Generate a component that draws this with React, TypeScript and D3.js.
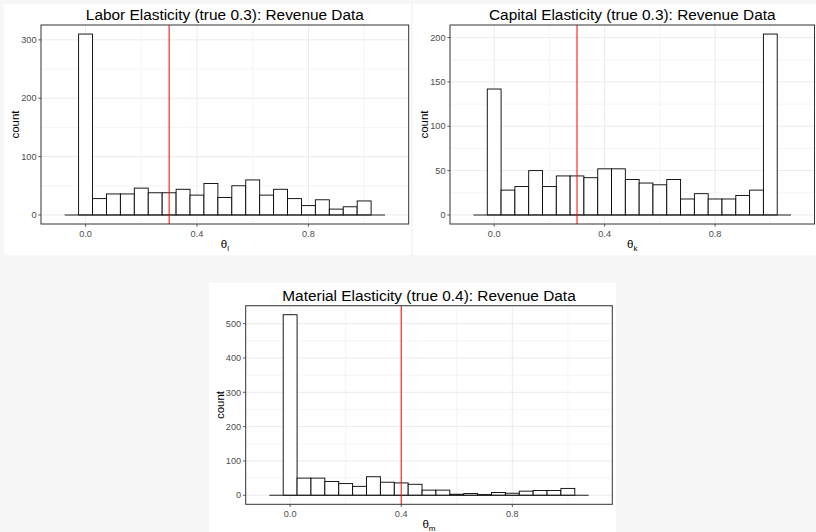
import React from "react";
import * as d3 from "d3";

// bin centres (width 0.05), the two outer bins are empty
const binCenters = [-0.05, 0, 0.05, 0.1, 0.15, 0.2, 0.25, 0.3, 0.35, 0.4, 0.45, 0.5, 0.55, 0.6, 0.65, 0.7, 0.75, 0.8, 0.85, 0.9, 0.95, 1.0, 1.05];
const binWidth = 0.05;

const laborCounts = [0, 310, 28, 36, 36, 46, 38, 38, 44, 34, 54, 30, 50, 60, 34, 44, 28, 16, 26, 10, 14, 24, 0];
const capitalCounts = [0, 142, 28, 32, 50, 32, 44, 44, 42, 52, 52, 40, 36, 34, 40, 18, 24, 18, 18, 22, 28, 204, 0];
const materialCounts = [0, 526, 50, 50, 40, 34, 26, 54, 38, 36, 32, 15, 15, 3, 5, 2, 8, 6, 12, 14, 14, 20, 0];

const xTicks = [0, 0.4, 0.8];
const xMinor = [0.2, 0.6, 1.0];
const laborTicks = [0, 100, 200, 300];
const capitalTicks = [0, 50, 100, 150, 200];
const materialTicks = [0, 100, 200, 300, 400, 500];

const font = "'Liberation Sans', Arial, sans-serif";

type PanelProps = {
  bg: [number, number, number, number];
  box: [number, number, number, number];
  title: string;
  sub: string;
  counts: number[];
  yTicks: number[];
  truth: number;
};

const Panel = ({ bg, box, title, sub, counts, yTicks, truth }: PanelProps) => {
  const [x0, y0, x1, y1] = box;
  const ymax = d3.max(counts) as number;
  const x = d3.scaleLinear().domain([-0.16, 1.16]).range([x0, x1]);
  const y = d3.scaleLinear().domain([-0.05 * ymax, 1.05 * ymax]).range([y1, y0]);
  const step = yTicks[1] - yTicks[0];
  const yMinor = yTicks.map((t) => t + step / 2).filter((t) => y(t) > y0);
  const grid = "#ebebeb";
  const first = binCenters[0] - binWidth / 2;
  const last = binCenters[binCenters.length - 1] + binWidth / 2;

  return (
    <g>
      <rect x={bg[0]} y={bg[1]} width={bg[2] - bg[0]} height={bg[3] - bg[1]} fill="white" />
      {yMinor.map((t) => (
        <line key={"ym" + t} x1={x0} x2={x1} y1={y(t)} y2={y(t)} stroke={grid} strokeWidth={0.5} />
      ))}
      {xMinor.map((t) => (
        <line key={"xm" + t} x1={x(t)} x2={x(t)} y1={y0} y2={y1} stroke={grid} strokeWidth={0.5} />
      ))}
      {yTicks.map((t) => (
        <line key={"yg" + t} x1={x0} x2={x1} y1={y(t)} y2={y(t)} stroke={grid} strokeWidth={1} />
      ))}
      {xTicks.map((t) => (
        <line key={"xg" + t} x1={x(t)} x2={x(t)} y1={y0} y2={y1} stroke={grid} strokeWidth={1} />
      ))}
      {binCenters.map((c, i) => {
        const top = y(counts[i]);
        if (counts[i] === 0) return null;
        return (
          <rect
            key={"b" + i}
            x={x(c - binWidth / 2)}
            y={top}
            width={x(c + binWidth / 2) - x(c - binWidth / 2)}
            height={y(0) - top}
            fill="white"
            stroke="black"
            strokeWidth={0.9}
          />
        );
      })}
      <line x1={x(first)} x2={x(last)} y1={y(0)} y2={y(0)} stroke="#222" strokeWidth={1.1} />
      <line x1={x(truth)} x2={x(truth)} y1={y0} y2={y1} stroke="red" strokeWidth={1} />
      <rect x={x0} y={y0} width={x1 - x0} height={y1 - y0} fill="none" stroke="#333333" strokeWidth={1} />
      {yTicks.map((t) => (
        <g key={"yt" + t}>
          <line x1={x0 - 2.7} x2={x0} y1={y(t)} y2={y(t)} stroke="#333333" strokeWidth={0.8} />
          <text x={x0 - 4.5} y={y(t)} dy="0.35em" textAnchor="end" fontSize={9.2} fill="#4d4d4d" fontFamily={font}>
            {t}
          </text>
        </g>
      ))}
      {xTicks.map((t) => (
        <g key={"xt" + t}>
          <line x1={x(t)} x2={x(t)} y1={y1} y2={y1 + 2.7} stroke="#333333" strokeWidth={0.8} />
          <text x={x(t)} y={y1 + 12.5} textAnchor="middle" fontSize={9.2} fill="#4d4d4d" fontFamily={font}>
            {d3.format(".1f")(t)}
          </text>
        </g>
      ))}
      <text x={(x0 + x1) / 2} y={y0 - 5} textAnchor="middle" fontSize={15.4} fill="black" fontFamily={font}>
        {title}
      </text>
      <text x={(x0 + x1) / 2} y={y1 + 24} textAnchor="middle" fontSize={11.5} fill="black" fontFamily={font}>
        θ<tspan fontSize={8} dy={3}>{sub}</tspan>
      </text>
      <text
        transform={`translate(${x0 - 22},${(y0 + y1) / 2}) rotate(-90)`}
        textAnchor="middle"
        fontSize={11.5}
        fill="black"
        fontFamily={font}
      >
        count
      </text>
    </g>
  );
};

export default function App() {
  return (
    <svg width={816} height={532} style={{ position: "absolute", left: 0, top: 0 }}>
      <rect width={816} height={532} fill="#f7f7f7" />
      <Panel
        bg={[4, 4, 411, 255]}
        box={[41, 25, 408.7, 224]}
        title="Labor Elasticity (true 0.3): Revenue Data"
        sub="l"
        counts={laborCounts}
        yTicks={laborTicks}
        truth={0.3}
      />
      <Panel
        bg={[413, 4, 816, 255]}
        box={[450, 25, 814.5, 224]}
        title="Capital Elasticity (true 0.3): Revenue Data"
        sub="k"
        counts={capitalCounts}
        yTicks={capitalTicks}
        truth={0.3}
      />
      <Panel
        bg={[209, 283, 616, 532]}
        box={[245.7, 305.7, 612.3, 504.3]}
        title="Material Elasticity (true 0.4): Revenue Data"
        sub="m"
        counts={materialCounts}
        yTicks={materialTicks}
        truth={0.4}
      />
    </svg>
  );
}
